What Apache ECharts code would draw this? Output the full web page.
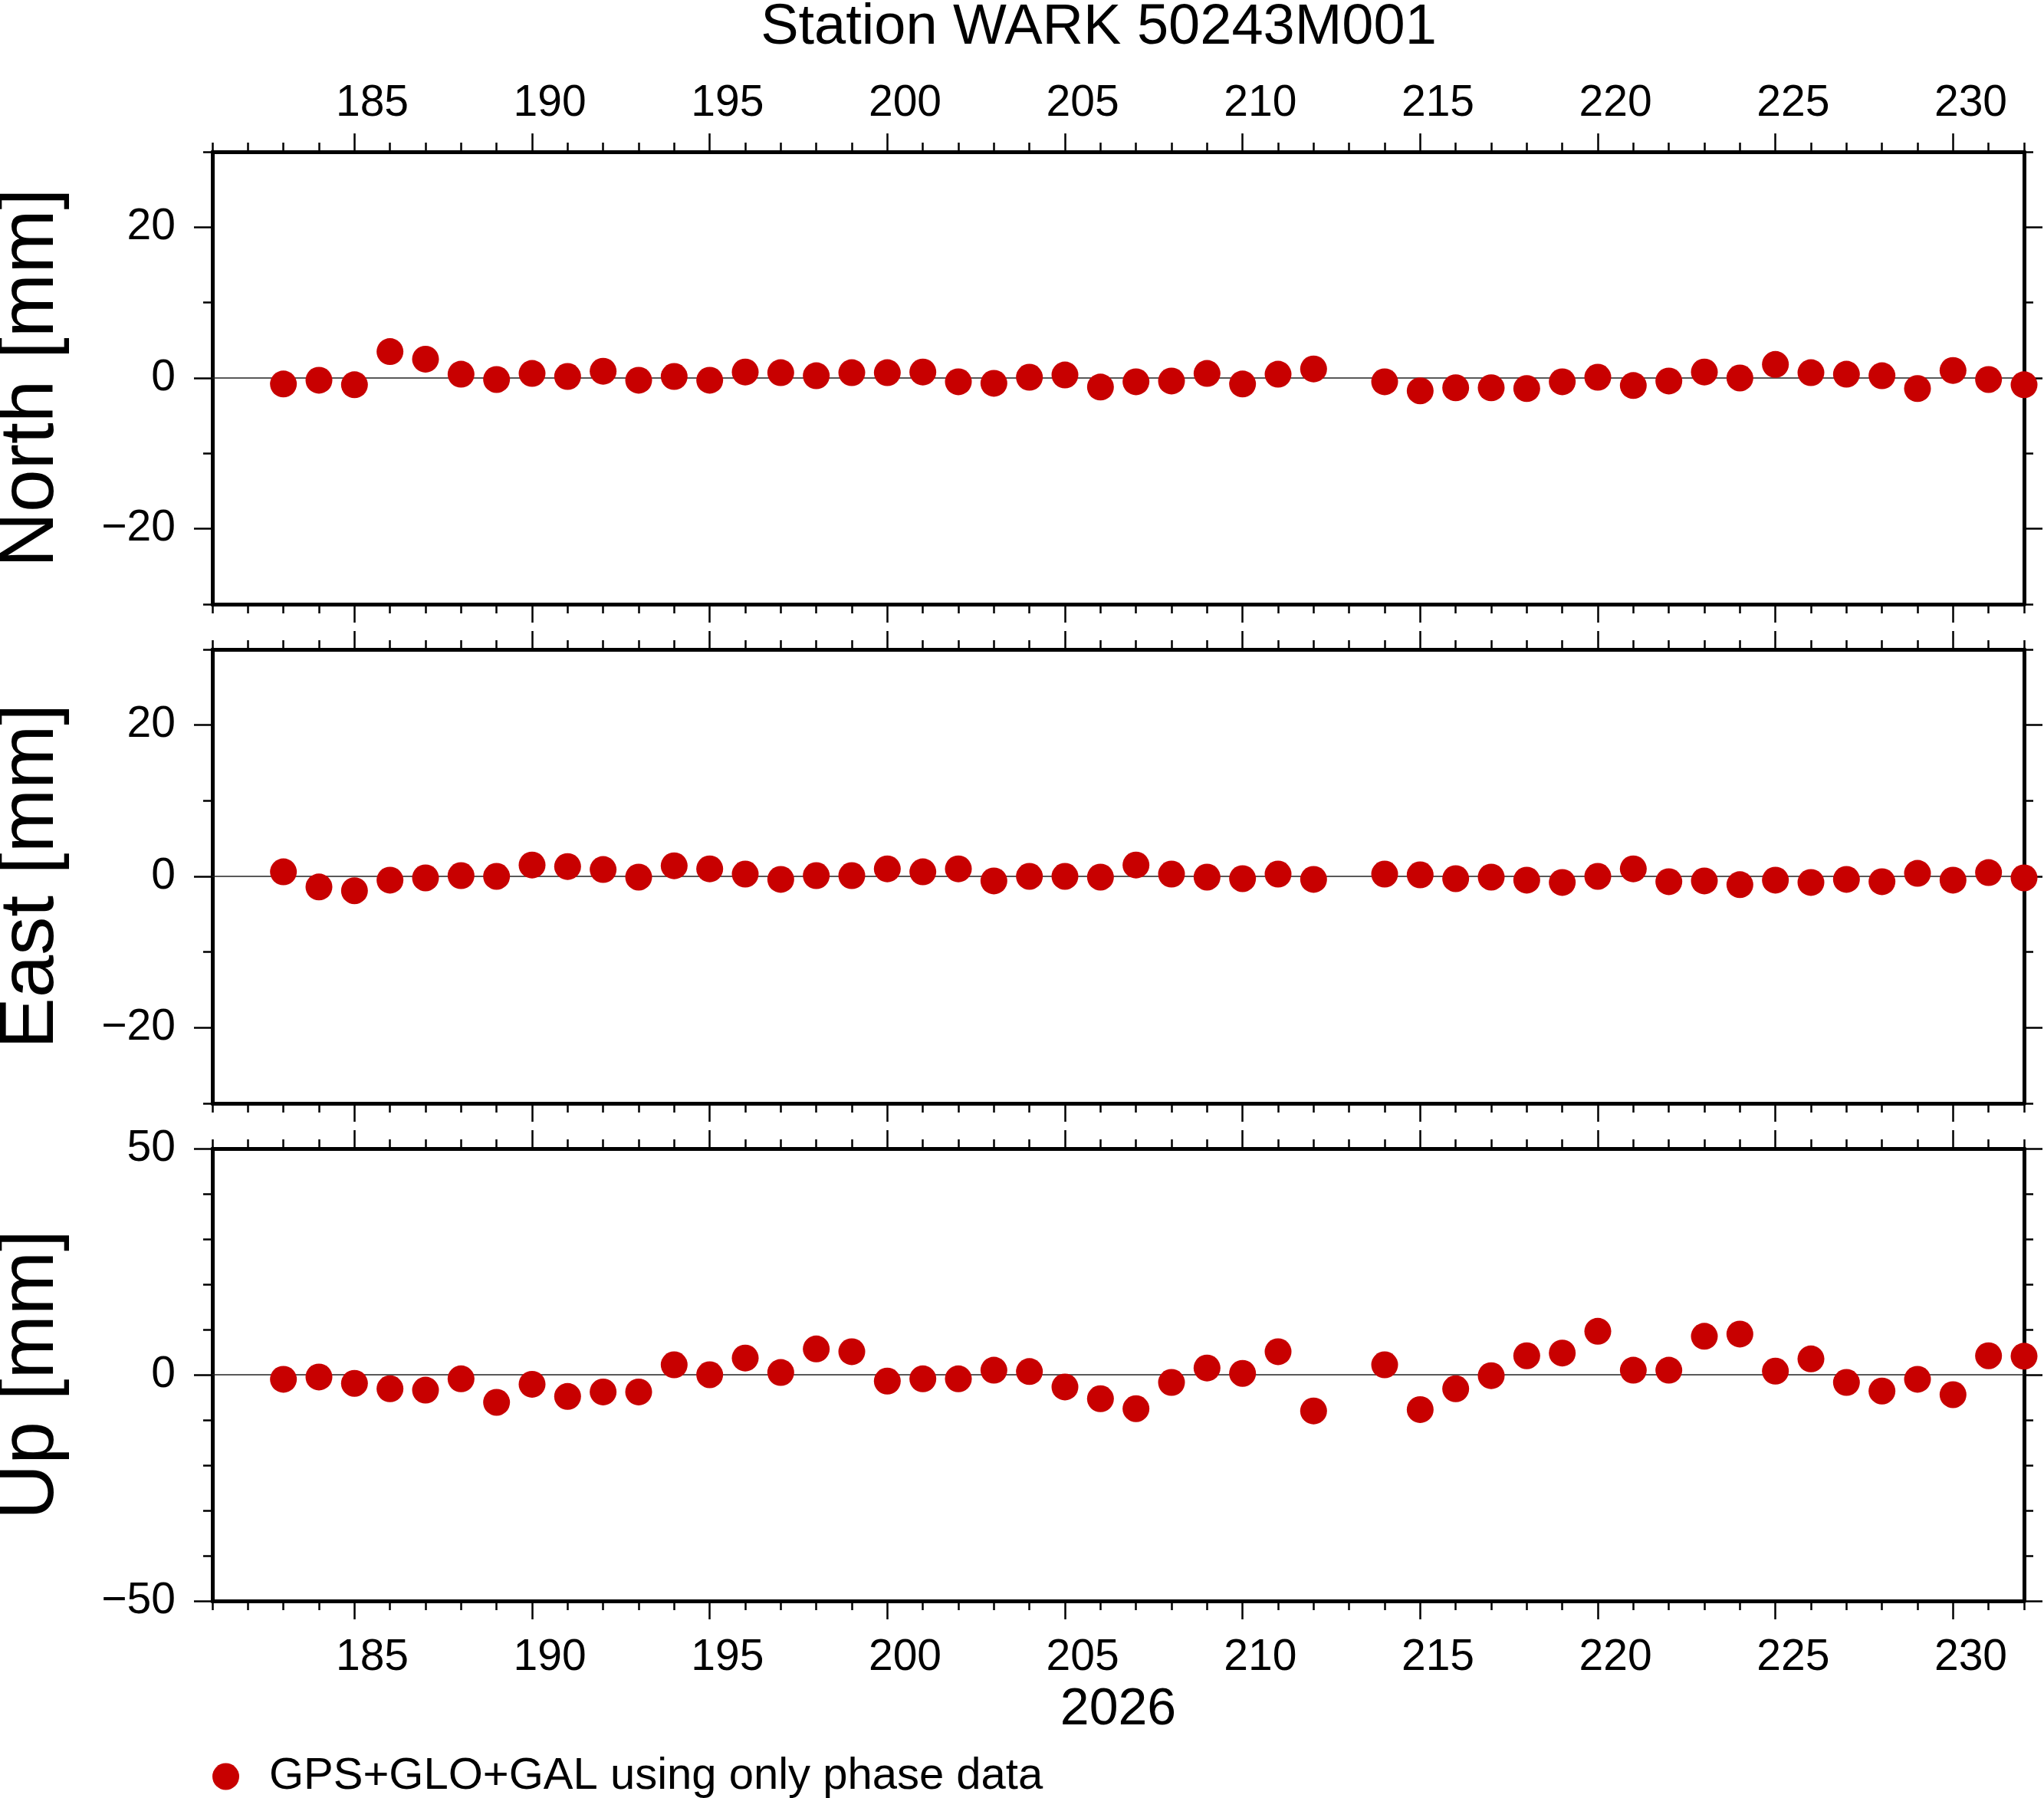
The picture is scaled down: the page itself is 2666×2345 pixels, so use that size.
<!DOCTYPE html>
<html>
<head>
<meta charset="utf-8">
<title>Station WARK 50243M001</title>
<script src="https://cdn.jsdelivr.net/npm/echarts@6/dist/echarts.min.js"></script>
<style>
  html, body { margin: 0; padding: 0; background: #fff; }
  #chart { width: 2666px; height: 2345px; }
</style>
</head>
<body>
<div id="chart"></div>
<script>
// day of year 2026 (213 missing)
var days = [183, 184, 185, 186, 187, 188, 189, 190, 191, 192, 193, 194, 195, 196, 197,
  198, 199, 200, 201, 202, 203, 204, 205, 206, 207, 208, 209, 210, 211, 212,
  214, 215, 216, 217, 218, 219, 220, 221, 222, 223, 224, 225, 226, 227, 228,
  229, 230, 231, 232];

// residuals in mm
var north = [-0.8, -0.3, -0.9, 3.5, 2.5, 0.5, -0.2, 0.6, 0.2, 0.9, -0.3, 0.2, -0.3, 0.8, 0.7,
  0.3, 0.7, 0.7, 0.8, -0.5, -0.7, 0.1, 0.4, -1.2, -0.5, -0.4, 0.6, -0.8, 0.5, 1.2,
  -0.5, -1.7, -1.3, -1.3, -1.4, -0.5, 0.1, -1.0, -0.4, 0.8, 0.0, 1.8, 0.7, 0.5, 0.3,
  -1.4, 1.0, -0.2, -0.9];
var east = [0.6, -1.4, -1.9, -0.5, -0.2, 0.1, 0.0, 1.5, 1.3, 0.9, -0.1, 1.4, 1.0, 0.3, -0.4,
  0.1, 0.1, 1.0, 0.6, 1.0, -0.6, 0.0, 0.0, -0.1, 1.5, 0.3, -0.1, -0.3, 0.3, -0.4,
  0.3, 0.2, -0.3, -0.1, -0.5, -0.8, 0.0, 1.0, -0.7, -0.6, -1.1, -0.5, -0.8, -0.4, -0.7,
  0.4, -0.5, 0.5, -0.2];
var up = [-1.0, -0.5, -1.9, -3.1, -3.4, -0.9, -6.1, -2.1, -4.8, -3.8, -3.8, 2.2, 0.0, 3.7, 0.5,
  5.7, 5.1, -1.4, -0.9, -0.9, 1.0, 0.7, -2.7, -5.3, -7.5, -1.7, 1.5, 0.3, 5.1, -8.0,
  2.2, -7.7, -3.1, -0.2, 4.2, 4.8, 9.6, 1.0, 1.0, 8.5, 9.0, 0.8, 3.5, -1.7, -3.6,
  -1.0, -4.4, 4.2, 4.1];

var dayTicks = [185, 190, 195, 200, 205, 210, 215, 220, 225, 230];
var panelNames = ['North [mm]', 'East [mm]', 'Up [mm]'];
var yRanges = [[-30, 30], [-30, 30], [-50, 50]];
var yMajor = [[-20, 0, 20], [-20, 0, 20], [-50, 0, 50]];
var seriesName = 'GPS+GLO+GAL using only phase data';
var title = 'Station WARK 50243M001';
var yearLabel = '2026';

var FONT = 'Liberation Sans, Helvetica, Arial, sans-serif';
var xMin = 181, xMax = 232;
var grids = [
  { left: 277, width: 2363, top: 198, height: 590, outerBoundsMode: 'none' },
  { left: 277, width: 2363, top: 847, height: 592, outerBoundsMode: 'none' },
  { left: 277, width: 2363, top: 1498, height: 590, outerBoundsMode: 'none' }
];

function minus(v) {
  return String(v).replace('-', '\u2212');
}

// day labels sit in the middle of the day
var dayLabelPos = dayTicks.map(function (d) { return d + 0.5; });

function xAxisFor(g, pos, major, withLabels) {
  var ax = {
    gridIndex: g,
    type: 'value',
    position: pos,
    min: xMin,
    max: xMax,
    splitLine: { show: false },
    axisLine: { show: major, onZero: false, lineStyle: { color: '#000', width: 5 } },
    axisTick: { show: true, length: major ? 24 : 12, lineStyle: { color: '#000', width: 2.5 } },
    axisLabel: { show: false }
  };
  if (major) {
    ax.axisTick.customValues = dayTicks;
  } else {
    ax.interval = 1;
  }
  if (withLabels) {
    ax.axisLabel = {
      show: true,
      customValues: dayLabelPos,
      formatter: function (v) { return String(Math.floor(v)); },
      margin: pos === 'top' ? 34 : 46,
      fontSize: 57,
      color: '#000',
      fontFamily: FONT
    };
  }
  return ax;
}

function yAxisFor(g, pos, major, withLabels) {
  var ax = {
    gridIndex: g,
    type: 'value',
    position: pos,
    min: yRanges[g][0],
    max: yRanges[g][1],
    splitLine: { show: false },
    axisLine: { show: major, onZero: false, lineStyle: { color: '#000', width: 5 } },
    axisTick: { show: true, length: major ? 24 : 12, lineStyle: { color: '#000', width: 2.5 } },
    axisLabel: { show: false }
  };
  if (major) {
    ax.axisTick.customValues = yMajor[g];
  } else {
    ax.interval = 10;
  }
  if (withLabels) {
    ax.axisLabel = {
      show: true,
      customValues: yMajor[g],
      formatter: minus,
      margin: 48,
      fontSize: 57,
      color: '#000',
      fontFamily: FONT
    };
    ax.name = panelNames[g];
    ax.nameLocation = 'middle';
    ax.nameRotate = 90;
    ax.nameGap = 186;
    ax.nameTextStyle = { fontSize: 100, color: '#000', fontFamily: FONT };
  }
  return ax;
}

var xAxes = [], yAxes = [];
for (var g = 0; g < 3; g++) {
  // order per grid: bottom major, bottom minor, top major, top minor
  var bottom = xAxisFor(g, 'bottom', true, g === 2);
  if (g === 2) {
    bottom.name = yearLabel;
    bottom.nameLocation = 'middle';
    bottom.nameGap = 108;
    bottom.nameTextStyle = { fontSize: 68, color: '#000', fontFamily: FONT };
  }
  xAxes.push(bottom);
  xAxes.push(xAxisFor(g, 'bottom', false, false));
  xAxes.push(xAxisFor(g, 'top', true, g === 0));
  xAxes.push(xAxisFor(g, 'top', false, false));

  yAxes.push(yAxisFor(g, 'left', true, true));
  yAxes.push(yAxisFor(g, 'left', false, false));
  yAxes.push(yAxisFor(g, 'right', true, false));
  yAxes.push(yAxisFor(g, 'right', false, false));
}

function pairs(vals) {
  return days.map(function (d, i) { return [d, vals[i]]; });
}

var panelData = [north, east, up];
var series = panelData.map(function (vals, g) {
  return {
    name: seriesName,
    type: 'scatter',
    xAxisIndex: g * 4,
    yAxisIndex: g * 4,
    data: pairs(vals),
    symbol: 'circle',
    symbolSize: 35,
    clip: false,
    z: 10,
    itemStyle: { color: '#c80000', opacity: 1 },
    markLine: {
      silent: true,
      symbol: 'none',
      z: 1,
      label: { show: false },
      lineStyle: { color: '#222', width: 1.5, type: 'solid' },
      data: [{ yAxis: 0 }]
    }
  };
});

var chart = echarts.init(document.getElementById('chart'), null, { renderer: 'canvas' });
chart.setOption({
  backgroundColor: '#ffffff',
  animation: false,
  title: {
    text: title,
    left: 1433,
    top: 0,
    textAlign: 'center',
    padding: 0,
    textStyle: { fontSize: 74, fontWeight: 'normal', color: '#000', fontFamily: FONT }
  },
  legend: {
    data: [seriesName],
    left: 277,
    top: 2288,
    padding: 0,
    icon: 'circle',
    itemWidth: 35,
    itemHeight: 35,
    textStyle: { fontSize: 58, color: '#000', fontFamily: FONT, padding: [0, 0, 0, 34] }
  },
  grid: grids,
  xAxis: xAxes,
  yAxis: yAxes,
  series: series
});
</script>
</body>
</html>
